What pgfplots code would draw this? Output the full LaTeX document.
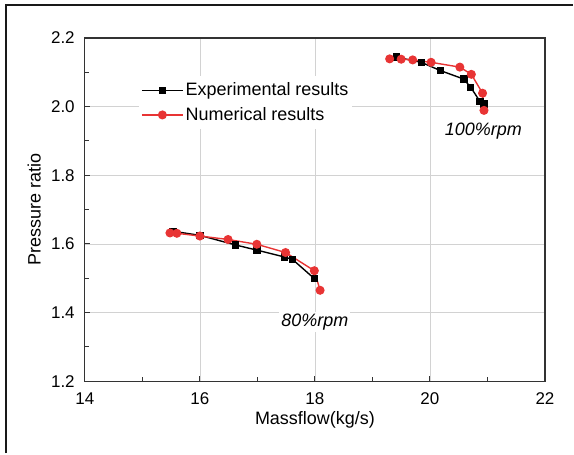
\documentclass[border=0pt]{standalone}
\usepackage{pgfplots}
\pgfplotsset{compat=1.18}
\usepackage{fontspec}
\setmainfont{Liberation Sans}
\definecolor{myred}{RGB}{232,52,52}
\begin{document}
\fontsize{18}{21}\selectfont
\begin{tikzpicture}
\begin{axis}[
  scale only axis,
  width=461pt, height=344pt,
  xmin=14, xmax=22, ymin=1.2, ymax=2.2,
  xtick={14,16,...,22}, ytick={1.2,1.4,...,2.2},
  minor x tick num=1, minor y tick num=1,
  xtick pos=left, ytick pos=left,
  tick align=inside,
  major tick length=5pt, minor tick length=4pt,
  /pgf/number format/assume math mode=true,
  /pgf/number format/fixed, /pgf/number format/fixed zerofill, /pgf/number format/precision=1,
  xticklabel={\pgfmathprintnumber[precision=0,fixed zerofill=false]{\tick}},
  grid=major,
  grid style={gray!35, line width=0.7pt},
  axis line style={black!80, line width=1.3pt},
  tick style={black!80, line width=1pt},
  tick label style={font=\fontsize{17}{20}\selectfont},
  xticklabel style={yshift=-5pt},
  yticklabel style={xshift=-4pt},
  label style={font=\fontsize{18}{21}\selectfont},
  xlabel={Massflow(kg/s)},
  ylabel={Pressure ratio},
  xlabel style={yshift=5pt},
  ylabel style={yshift=-2pt},
  legend style={at={(axis cs:14.94,2.09)}, anchor=north west, draw=none, fill=white,
    font=\fontsize{18}{21}\selectfont, inner sep=2pt,
    nodes={inner ysep=4.5pt}},
  legend cell align=left,
  legend image code/.code={
    \draw[#1] (0cm,0cm) -- (1.45cm,0cm);
    \draw[#1, only marks] plot coordinates {(0.725cm,0cm)};
  },
]
\addplot[black, line width=1.4pt, mark=square*, mark size=3pt] coordinates {
  (15.53,1.637) (16.00,1.625) (16.62,1.597) (16.99,1.582) (17.47,1.562) (17.61,1.555) (17.99,1.499)
};
\addlegendentry{Experimental results}
\addplot[myred, line width=1.4pt, mark=*, mark size=3.8pt] coordinates {
  (15.48,1.632) (15.60,1.631) (16.00,1.623) (16.49,1.613) (16.99,1.599) (17.49,1.575) (17.99,1.522) (18.09,1.465)
};
\addlegendentry{Numerical results}
\addplot[black, line width=1.4pt, mark=square*, mark size=3pt, forget plot] coordinates {
  (19.42,2.144) (19.85,2.129) (20.18,2.105) (20.59,2.080) (20.71,2.056) (20.87,2.015) (20.94,2.008)
};
\addplot[myred, line width=1.4pt, mark=*, mark size=3.8pt, forget plot] coordinates {
  (19.30,2.139) (19.50,2.138) (19.70,2.136) (20.02,2.129) (20.52,2.115) (20.72,2.094) (20.915,2.039) (20.94,1.989)
};
\node[fill=white, inner sep=2pt, font=\fontsize{18}{21}\selectfont\itshape] at (axis cs:20.93,1.93) {100\%rpm};
\node[fill=white, inner sep=2pt, font=\fontsize{18}{21}\selectfont\itshape] at (axis cs:18.0,1.372) {80\%rpm};
\end{axis}
\draw[black!90, line width=2.2pt] (-79pt,-72pt) -- (-79pt,377pt) -- (489pt,377pt);
\useasboundingbox (-85pt,-72pt) rectangle (489pt,382pt);
\end{tikzpicture}
\end{document}
